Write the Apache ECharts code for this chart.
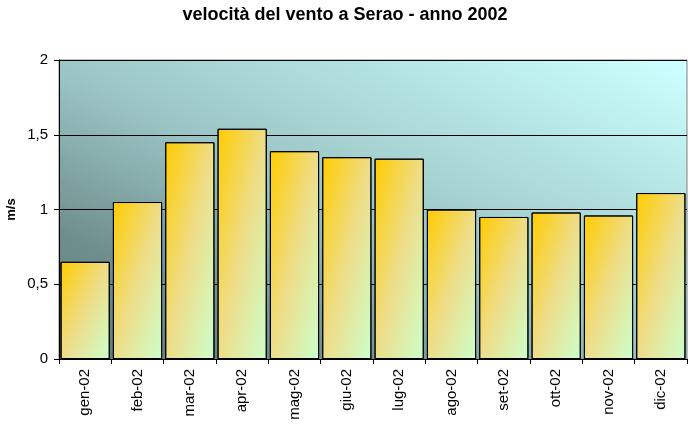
<!DOCTYPE html>
<html>
<head>
<meta charset="utf-8">
<script src="https://cdn.jsdelivr.net/npm/echarts@6/dist/echarts.min.js"></script>
<style>html,body{margin:0;padding:0;background:#fff}#c{width:690px;height:424px}</style>
</head>
<body>
<div id="c"></div>
<script>
const categories = ["gen-02","feb-02","mar-02","apr-02","mag-02","giu-02","lug-02","ago-02","set-02","ott-02","nov-02","dic-02"];
const windSpeed = [0.65, 1.05, 1.45, 1.54, 1.39, 1.35, 1.34, 1.00, 0.95, 0.98, 0.96, 1.11];
const yTicks = [0, 0.5, 1, 1.5, 2];

const chart = echarts.init(document.getElementById('c'), null, {renderer: 'canvas'});
const font = '"Liberation Sans", Arial, sans-serif';
const barStops = [
  {offset: 0, color: '#ffcc00'},
  {offset: 0.5, color: '#eedd88'},
  {offset: 1, color: '#ccffcc'}
];
chart.setOption({
  animation: false,
  backgroundColor: '#ffffff',
  title: {
    text: 'velocità del vento a Serao - anno 2002',
    left: 'center', top: 1,
    textStyle: {fontFamily: font, fontSize: 18, fontWeight: 'bold', color: '#000'}
  },
  grid: {
    left: 59, right: 3, top: 60, bottom: 65,
    containLabel: false,
    outerBoundsMode: 'none',
    show: true,
    borderColor: '#808080', borderWidth: 1,
    backgroundColor: new echarts.graphic.LinearGradient(0, 1, 0.357, -0.6, [
      {offset: 0, color: '#5f7878'},
      {offset: 0.22, color: '#6f8f8d'},
      {offset: 0.5, color: '#9cc6c6'},
      {offset: 1, color: '#ccffff'}
    ])
  },
  xAxis: {
    type: 'category',
    data: categories,
    boundaryGap: true,
    axisLine: {lineStyle: {color: '#000', width: 1}},
    axisTick: {show: true, alignWithLabel: false, length: 5, lineStyle: {color: '#000'}},
    axisLabel: {rotate: 90, margin: 10, fontFamily: font, fontSize: 15, color: '#000'}
  },
  yAxis: {
    type: 'value',
    min: yTicks[0], max: yTicks[yTicks.length - 1], interval: 0.5,
    name: 'm/s', nameLocation: 'middle', nameGap: 41, nameRotate: 90,
    nameMoveOverlap: false,
    nameTextStyle: {fontFamily: font, fontSize: 13, fontWeight: 'bold', color: '#000'},
    axisLine: {show: true, lineStyle: {color: '#000', width: 1}},
    axisTick: {show: true, length: 5, lineStyle: {color: '#000'}},
    axisLabel: {
      fontFamily: font, fontSize: 15, color: '#000', margin: 11,
      formatter: v => String(v).replace('.', ',')
    },
    splitLine: {show: true, lineStyle: {color: '#000', width: 1}}
  },
  series: [{
    type: 'bar',
    data: windSpeed,
    barCategoryGap: '6%',
    itemStyle: {
      borderColor: '#000', borderWidth: 1,
      color: new echarts.graphic.LinearGradient(0, 0, 1, 1, barStops)
    }
  }]
});

// Diagonal gradient whose isolines run parallel to each bar's anti-diagonal
try {
  const data = chart.getModel().getSeriesByIndex(0).getData();
  const items = windSpeed.map((v, i) => {
    const l = data.getItemLayout(i);
    const w = Math.abs(l.width), h = Math.abs(l.height);
    const s = h * h + w * w;
    return {
      value: v,
      itemStyle: {color: new echarts.graphic.LinearGradient(0, 0, 2 * h * h / s, 2 * w * w / s, barStops)}
    };
  });
  chart.setOption({series: [{data: items}]});
} catch (e) {}
</script>
</body>
</html>
